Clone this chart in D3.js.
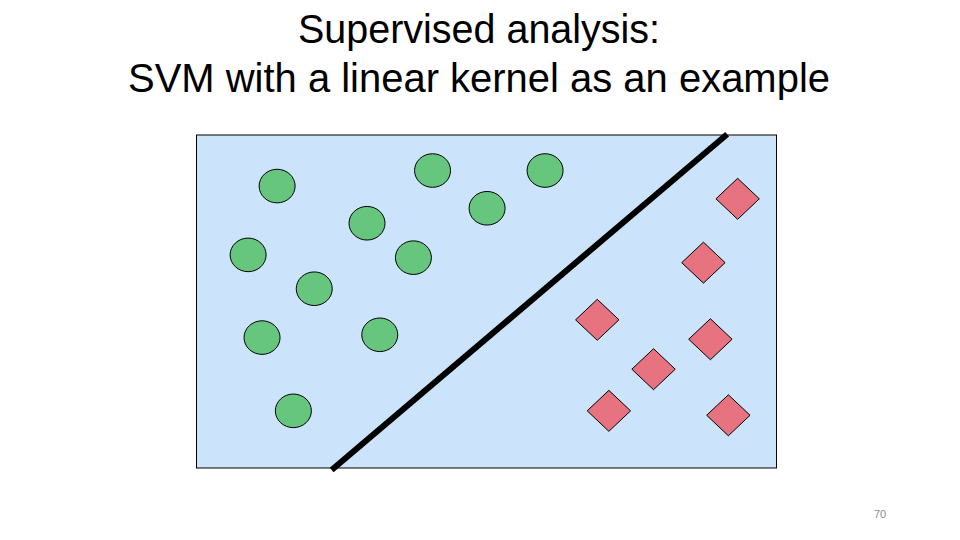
<!DOCTYPE html>
<html lang="en">
<head>
  <meta charset="UTF-8">
  <title>SVM with a linear kernel</title>
  <script src="https://d3js.org/d3.v7.min.js"></script>
  <style>
    body { margin: 0; background: #fff; }
    .title {
      font-family: "Liberation Sans", "DejaVu Sans", sans-serif;
      font-size: 41px;
      fill: #000;
    }
    .pageno {
      font-family: "Liberation Sans", sans-serif;
      font-size: 11px;
      fill: #8c8c8c;
    }
  </style>
</head>
<body>
  <script>
    // title lines
    const titleLines = ['Supervised analysis:', 'SVM with a linear kernel as an example'];
    const pageNumber = '70';

    // class A (circles), in panel units
    const circleX = [1.39, 4.07, 5.01, 6.01, 2.94, 0.89, 3.74, 2.03, 1.13, 3.16, 1.67];
    const circleY = [5.08, 5.36, 4.68, 5.36, 4.41, 3.84, 3.79, 3.23, 2.35, 2.40, 1.03];

    // class B (diamonds)
    const diamondX = [9.33, 8.74, 6.91, 8.86, 7.88, 7.11, 9.17];
    const diamondY = [4.85, 3.70, 2.67, 2.32, 1.78, 1.03, 0.95];

    // separating hyperplane end points
    const lineX = [2.37, 9.11];
    const lineY = [0.0, 5.98];

    const width = 960;
    const height = 540;

    const svg = d3.select('body').append('svg')
      .attr('width', width)
      .attr('height', height);

    const x = d3.scaleLinear().domain([0, 10]).range([196.5, 776.5]);
    const y = d3.scaleLinear().domain([0, 6]).range([468, 135]);

    // title
    const titleLen = [362, 702];
    svg.selectAll('text.title')
      .data(titleLines)
      .enter().append('text')
      .attr('class', 'title')
      .attr('x', (d, i) => i === 0 ? 479 : 479)
      .attr('y', (d, i) => 43 + i * 49)
      .attr('text-anchor', 'middle')
      .attr('textLength', (d, i) => titleLen[i])
      .attr('lengthAdjust', 'spacingAndGlyphs')
      .text(d => d);

    // panel
    svg.append('rect')
      .attr('x', x(0))
      .attr('y', y(6))
      .attr('width', x(10) - x(0))
      .attr('height', y(0) - y(6))
      .attr('fill', '#cce4fb')
      .attr('stroke', '#000')
      .attr('stroke-width', 1);

    const circles = circleX.map((v, i) => ({ x: v, y: circleY[i] }));
    const diamonds = diamondX.map((v, i) => ({ x: v, y: diamondY[i] }));

    svg.append('g').selectAll('ellipse')
      .data(circles)
      .enter().append('ellipse')
      .attr('cx', d => x(d.x))
      .attr('cy', d => y(d.y))
      .attr('rx', 18)
      .attr('ry', 16.8)
      .attr('fill', '#66c67e')
      .attr('stroke', '#000')
      .attr('stroke-width', 1);

    svg.append('g').selectAll('path')
      .data(diamonds)
      .enter().append('path')
      .attr('d', 'M0,-20.5L21.7,0L0,20.5L-21.7,0Z')
      .attr('transform', d => `translate(${x(d.x)},${y(d.y)})`)
      .attr('fill', '#e77380')
      .attr('stroke', '#000')
      .attr('stroke-width', 1);

    // decision boundary
    svg.append('line')
      .attr('x1', x(lineX[0]))
      .attr('y1', y(lineY[0]))
      .attr('x2', x(lineX[1]))
      .attr('y2', y(lineY[1]))
      .attr('stroke', '#000')
      .attr('stroke-width', 6)
      .attr('stroke-linecap', 'square');

    svg.append('text')
      .attr('class', 'pageno')
      .attr('x', 880)
      .attr('y', 518)
      .attr('text-anchor', 'middle')
      .text(pageNumber);
  </script>
</body>
</html>
